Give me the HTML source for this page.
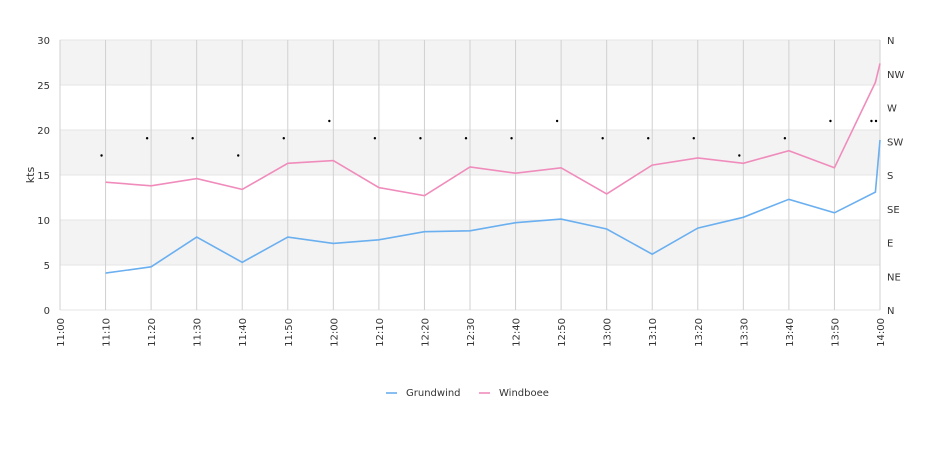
<!DOCTYPE html>
<html><head><meta charset="utf-8"><style>
body{margin:0;background:#fff;}
svg{font-family:"DejaVu Sans","Liberation Sans",sans-serif;}
</style></head><body>
<svg id="c" width="940" height="450"></svg>
<script>
const times=["11:10","11:20","11:30","11:40","11:50","12:00","12:10","12:20","12:30","12:40","12:50","13:00","13:10","13:20","13:30","13:40","13:50","13:59","14:00"];
const grundwind=[4.1,4.8,8.1,5.3,8.1,7.4,7.8,8.7,8.8,9.7,10.1,9.0,6.2,9.1,10.3,12.3,10.8,13.1,18.9];
const windboee=[14.2,13.8,14.6,13.4,16.3,16.6,13.6,12.7,15.9,15.2,15.8,12.9,16.1,16.9,16.3,17.7,15.8,25.3,27.4];
const direction=[206,229,229,206,229,252,229,229,229,229,252,229,229,229,206,229,252,252,252];
const xTicks=["11:00","11:10","11:20","11:30","11:40","11:50","12:00","12:10","12:20","12:30","12:40","12:50","13:00","13:10","13:20","13:30","13:40","13:50","14:00"];
const yTicks=[0,5,10,15,20,25,30];
const dirLabels=["N","NE","E","SE","S","SW","W","NW","N"];

const NS="http://www.w3.org/2000/svg",svg=document.getElementById('c');
const L=60,R=880,T=40,B=310;
function mins(t){const p=t.split(':');return (+p[0])*60+(+p[1]);}
const t0=mins("11:00"),t1=mins("14:00");
const x=t=>L+(mins(t)-t0)/(t1-t0)*(R-L);
const y=v=>B-v/30*(B-T);
const yd=d=>B-d/360*(B-T);
function el(tag,a,txt){const e=document.createElementNS(NS,tag);for(const k in a)e.setAttribute(k,a[k]);if(txt!=null)e.textContent=txt;svg.appendChild(e);return e;}

for(let i=0;i<yTicks.length-1;i++){
  if(i%2===1){const b=el('rect',{x:L,y:y(yTicks[i+1]),width:R-L,height:y(yTicks[i])-y(yTicks[i+1]),fill:'#f3f3f3'});
  
  }
}
yTicks.forEach(v=>{
  const g=el('line',{x1:L,x2:R,y1:y(v),y2:y(v),stroke:'#e6e6e6'});
  
  
  const t=el('text',{x:50,y:y(v)+4,'text-anchor':'end','font-size':10,fill:'#333'},v);
  
  
});
xTicks.forEach(tk=>{
  const xx=x(tk);
  const g=el('line',{x1:xx,x2:xx,y1:T,y2:B,stroke:'#d0d0d0'});
  
  
  const t=el('text',{x:0,y:0,'text-anchor':'end','font-size':10,fill:'#333',transform:`translate(${xx+4},318) rotate(-90)`},tk);
  
  
});
dirLabels.forEach((d,i)=>{
  const t=el('text',{x:887,y:yd(i*45)+4,'font-size':10,fill:'#333'},d);
  
  
});
const yl=el('text',{x:0,y:0,'text-anchor':'middle','font-size':11,fill:'#333',transform:'translate(34,175) rotate(-90)'},'kts');



function line(vals,color,name){
  const d=vals.map((v,i)=>(i?'L':'M')+x(times[i]).toFixed(1)+','+y(v).toFixed(1)).join('');
  const p=el('path',{d:d,fill:'none',stroke:color,'stroke-width':1.6});
  
  
}
line(grundwind,'#6aaff0','grundwind-line');
line(windboee,'#f08cbc','windboee-line');
direction.forEach((d,i)=>{
  const c=el('circle',{cx:x(times[i])-4,cy:yd(d),r:1.2,fill:'#000'});
  
  
});
[['Grundwind','#6aaff0',386],['Windboee','#f08cbc',479]].forEach(([n,c,lx])=>{
  const l=el('line',{x1:lx,x2:lx+11,y1:393,y2:393,stroke:c,'stroke-width':1.6});
  
  
  const t=el('text',{x:lx+20,y:396,'font-size':10,fill:'#333'},n);
  
  
});
</script>
</body></html>
